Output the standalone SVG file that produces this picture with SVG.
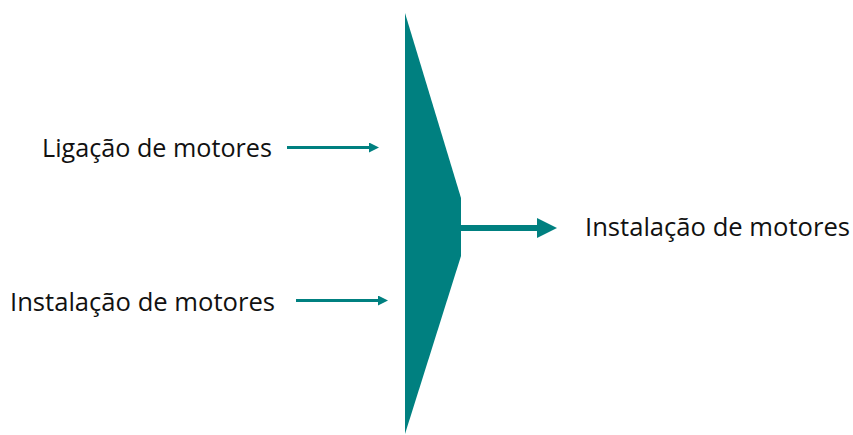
<svg xmlns="http://www.w3.org/2000/svg" width="853" height="435" viewBox="0 0 853 435">
  <style>
    .lbl { font-family: "Open Sans", "Liberation Sans", sans-serif; font-size: 25px; fill: #111111; }
    .flow { stroke: #008080; fill: none; }
  </style>
  <defs>
    <!-- heads are anchored mid-way so the shaft ends inside the triangle -->
    <marker id="headSmall" markerUnits="userSpaceOnUse" markerWidth="10" markerHeight="10" refX="5" refY="5" orient="auto">
      <path d="M0,0 L10,5 L0,10 Z" fill="#008080"/>
    </marker>
    <marker id="headLarge" markerUnits="userSpaceOnUse" markerWidth="20" markerHeight="20" refX="10" refY="10" orient="auto">
      <path d="M0,0 L20,10 L0,20 Z" fill="#008080"/>
    </marker>
  </defs>
  <rect width="853" height="435" fill="#ffffff"/>

  <g id="connectors">
    <line class="flow" x1="287" y1="147.5" x2="374" y2="147.5" stroke-width="3" marker-end="url(#headSmall)"/>
    <line class="flow" x1="296" y1="300.5" x2="383" y2="300.5" stroke-width="3" marker-end="url(#headSmall)"/>
    <line class="flow" x1="460" y1="228" x2="547" y2="228" stroke-width="6" marker-end="url(#headLarge)"/>
  </g>

  <g id="merge">
    <polygon points="405,13 461,198 461,256 405,434" fill="#008080"/>
  </g>

  <g id="input-ligacao">
    <text class="lbl" x="42" y="157" textLength="230" lengthAdjust="spacingAndGlyphs">Ligação de motores</text>
  </g>
  <g id="input-instalacao">
    <text class="lbl" x="10" y="311" textLength="265" lengthAdjust="spacingAndGlyphs">Instalação de motores</text>
  </g>
  <g id="output-instalacao">
    <text class="lbl" x="585" y="236" textLength="265" lengthAdjust="spacingAndGlyphs">Instalação de motores</text>
  </g>
</svg>
